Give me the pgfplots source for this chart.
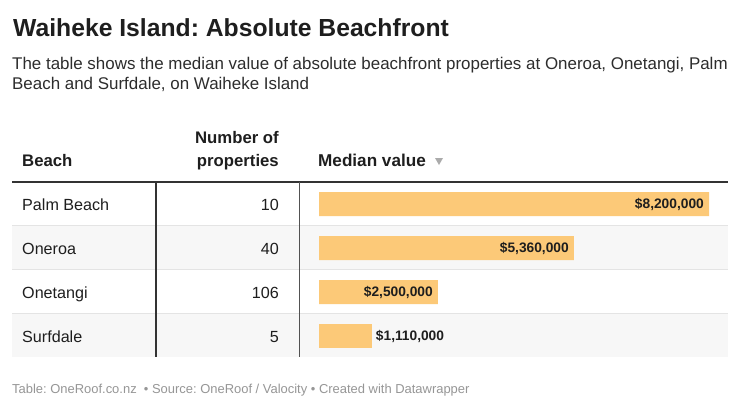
\documentclass[border=0pt]{standalone}
\usepackage{pgfplots}
\pgfplotsset{compat=1.18}
\usepackage{pgfplotstable}
\usepackage{fontspec}
\setmainfont{Liberation Sans}
\frenchspacing
\definecolor{barC}{RGB}{252,201,120}
\definecolor{txt}{RGB}{30,30,30}
\definecolor{sub}{RGB}{45,45,45}
\definecolor{foot}{RGB}{150,150,150}
\definecolor{band}{RGB}{247,247,247}
\definecolor{sep}{RGB}{228,228,228}
\definecolor{rule}{RGB}{51,51,51}

% median value in millions, row index, label
\pgfplotstableread{
val row lab
8.20 0 8,200,000
5.36 1 5,360,000
2.50 2 2,500,000
}\inside
\pgfplotstableread{
val row lab
1.11 3 1,110,000
}\outside

\newcommand{\fs}[1]{\fontsize{#1}{#1}\selectfont}

\begin{document}
\begin{tikzpicture}
\fill[white] (0,0) rectangle (740bp,-409bp);
\path[use as bounding box] (0,0) rectangle (740bp,-409bp);

% titles
\node[anchor=base west, inner sep=0, text=txt] at (13bp,-36bp) {\fs{24.8}\bfseries Waiheke Island: Absolute Beachfront};
\node[anchor=base west, inner sep=0, text=sub] at (12bp,-69bp) {\fs{17}The table shows the median value of absolute beachfront properties at Oneroa, Onetangi, Palm};
\node[anchor=base west, inner sep=0, text=sub] at (12bp,-89bp) {\fs{17}Beach and Surfdale, on Waiheke Island};

% row bands and separators
\fill[band] (12bp,-225bp) rectangle (728bp,-269bp);
\fill[band] (12bp,-313bp) rectangle (728bp,-357bp);
\foreach \yy in {225,269,313}
  \draw[sep, line width=1bp] (12bp,-\yy bp) -- (728bp,-\yy bp);

% header
\node[anchor=base west, inner sep=0, text=txt] at (22bp,-166bp) {\fs{16.8}\bfseries Beach};
\node[anchor=base east, inner sep=0, text=txt] at (279bp,-143bp) {\fs{16.8}\bfseries Number of};
\node[anchor=base east, inner sep=0, text=txt] at (279bp,-166bp) {\fs{16.8}\bfseries properties};
\node[anchor=base west, inner sep=0, text=txt] at (318bp,-166bp) {\fs{17.2}\bfseries Median value};
\fill[foot!80] (435bp,-158bp) -- (443bp,-158bp) -- (439bp,-165bp) -- cycle;
\draw[rule, line width=2bp] (12bp,-182bp) -- (728bp,-182bp);
\draw[rule, line width=2bp] (156bp,-182bp) -- (156bp,-357bp);
\draw[rule!85, line width=1bp] (299bp,-182bp) -- (299bp,-357bp);

% rows
\foreach \nm/\nn/\yy in {Palm Beach/10/210, Oneroa/40/254, Onetangi/106/298, Surfdale/5/342}{
  \node[anchor=base west, inner sep=0, text=txt] at (22bp,-\yy bp) {\fs{16.2}\nm};
  \node[anchor=base east, inner sep=0, text=txt] at (279bp,-\yy bp) {\fs{16.2}\nn};
}

% footer
\node[anchor=base west, inner sep=0, text=foot] at (12bp,-393bp) {\fs{13}Table: OneRoof.co.nz \ \textbullet\ Source: OneRoof / Valocity \textbullet\ Created with Datawrapper};

\begin{axis}[
  at={(319bp,-358bp)}, anchor=south west,
  scale only axis, width=390bp, height=176bp,
  xmin=0, xmax=8.2, ymin=-0.5, ymax=3.5, y dir=reverse,
  hide axis, clip=false,
  xbar, bar width=24bp, bar shift=0pt,
  point meta=explicit symbolic,
]
\addplot[fill=barC, draw=none,
  nodes near coords={\fs{13.8}\bfseries\$\pgfplotspointmeta},
  nodes near coords style={anchor=east, xshift=-5bp, text=txt, inner sep=0}]
  table[x=val, y=row, meta=lab] {\inside};
\addplot[fill=barC, draw=none,
  nodes near coords={\fs{13.8}\bfseries\$\pgfplotspointmeta},
  nodes near coords style={anchor=west, xshift=4bp, text=txt, inner sep=0}]
  table[x=val, y=row, meta=lab] {\outside};
\end{axis}
\end{tikzpicture}
\end{document}
